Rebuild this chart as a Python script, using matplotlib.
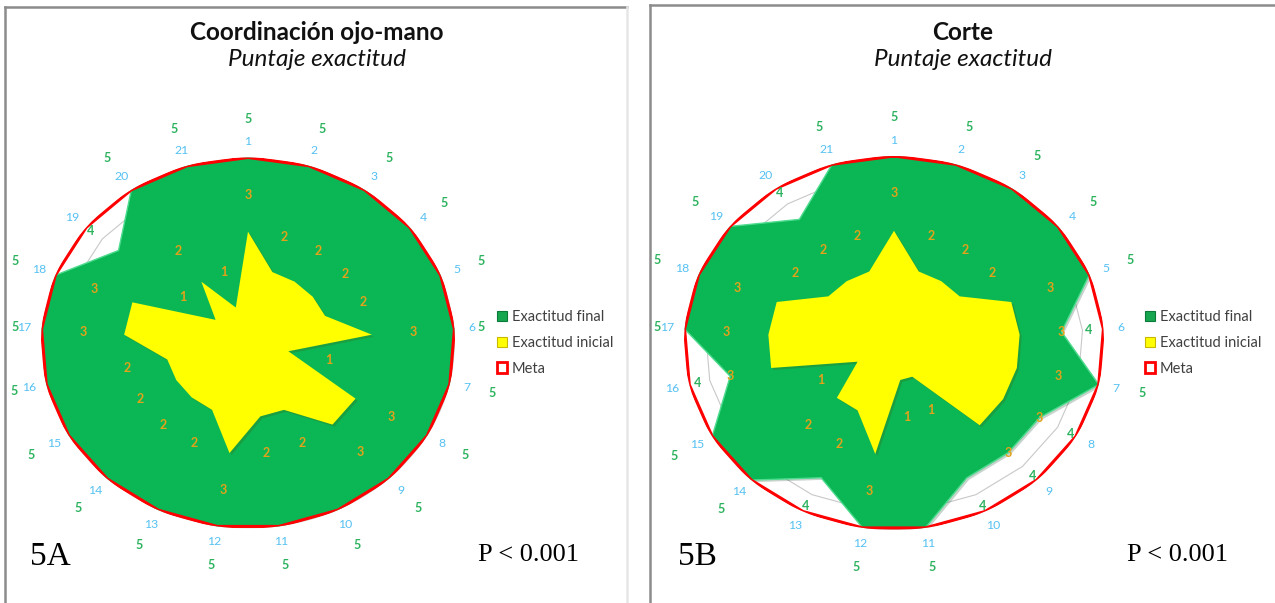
import numpy as np
import matplotlib.pyplot as plt
from matplotlib.patches import Patch
from matplotlib.lines import Line2D
import matplotlib.patheffects as pe

# Datos: 21 reactivos por prueba
ejes = [str(i) for i in range(1, 22)]
meta = [5] * 21

# 5A - Coordinación ojo-mano
final_a = [5, 5, 5, 5, 5, 5, 5, 5, 5, 5, 5, 5, 5, 5, 5, 5, 5, 5, 4, 5, 5]
inicial_a = [3, 2, 2, 2, 2, 3, 1, 3, 3, 2, 2, 3, 2, 2, 2, 2, 3, 3, 1, 2, 1]

# 5B - Corte
final_b = [5, 5, 5, 5, 5, 4, 5, 4, 4, 4, 5, 5, 4, 5, 5, 4, 5, 5, 5, 4, 5]
inicial_b = [3, 2, 2, 2, 3, 3, 3, 3, 3, 1, 1, 3, 2, 2, 1, 3, 3, 3, 2, 2, 2]

verde = '#0BB755'
amarillo = '#FFFF00'
rojo = '#FF0000'
txt_verde = '#2DB35F'
txt_amarillo = '#E3A21A'
txt_azul = '#55C1F2'

plt.rcParams['font.family'] = ['Lato', 'DejaVu Sans']

fig = plt.figure(figsize=(12.75, 6.03), dpi=100)

# marcos de cada panel (en pixeles de la figura)
W, H = 1275, 603
def linea(x0, y0, x1, y1, color):
    fig.add_artist(Line2D([x0 / W, x1 / W], [1 - y0 / H, 1 - y1 / H],
                          transform=fig.transFigure, color=color, lw=1.8))

linea(5, 7, 627, 7, '#8c8c8c')
linea(5, 7, 5, 603, '#8c8c8c')
linea(627, 7, 627, 603, '#e6e6e6')
linea(650, 5, 1275, 5, '#8c8c8c')
linea(650, 5, 650, 603, '#8c8c8c')

sombra = [pe.SimplePatchShadow(offset=(1.5, -1.5), alpha=0.22), pe.Normal()]


def radar(ax, final, inicial):
    n = len(ejes)
    ang = np.linspace(0, 2 * np.pi, n, endpoint=False)
    angc = np.append(ang, ang[0])
    cerrar = lambda v: np.append(v, v[0])

    ax.set_theta_zero_location('N')
    ax.set_theta_direction(-1)
    ax.set_aspect('auto')
    ax.set_ylim(0, 5)
    ax.set_xticks([])
    ax.set_yticks([])
    ax.grid(False)
    ax.spines['polar'].set_visible(False)
    ax.patch.set_alpha(0)

    for r in np.arange(0.5, 5.01, 0.5):
        ax.plot(angc, [r] * (n + 1), color='#c8c8c8', lw=0.8, zorder=0.5)

    ax.fill(angc, cerrar(final), color=verde, zorder=1, lw=1,
            edgecolor='#4fdc8f', path_effects=sombra)
    ax.fill(angc, cerrar(inicial), color=amarillo, zorder=1.5, lw=0,
            path_effects=sombra)
    ax.plot(angc, cerrar(meta), color=rojo, lw=2.2, zorder=2)

    for a, lab, vf, vi in zip(ang, ejes, final, inicial):
        # las etiquetas de los ejes casi horizontales quedan más cerca
        if abs(np.sin(a)) > 0.99:
            off = 0.65
        elif np.sin(a) < -0.95:
            off = 0.8
        else:
            off = 1.05 if vf == 5 else 0.85
        ax.text(a, 5.42, lab, color=txt_azul, fontsize=8.8,
                ha='center', va='center', clip_on=False, zorder=4)
        ax.text(a, vf + off, str(vf), color=txt_verde, fontsize=9,
                fontweight='bold', ha='center', va='center', clip_on=False, zorder=4)
        ax.text(a, vi + 1.0, str(vi), color=txt_amarillo, fontsize=9,
                fontweight='bold', ha='center', va='center', clip_on=False, zorder=4)


ax_a = fig.add_axes([41 / W, 74.5 / H, 414 / W, 371 / H], projection='polar')
radar(ax_a, final_a, inicial_a)
ax_b = fig.add_axes([684 / W, 73 / H, 420 / W, 374 / H], projection='polar')
radar(ax_b, final_b, inicial_b)

# títulos
for xc, titulo in ((317, 'Coordinación ojo-mano'), (963, 'Corte')):
    fig.text(xc / W, 1 - 33 / H, titulo, ha='center', va='center',
             fontsize=17.5, fontweight='bold', color='#111111')
    fig.text(xc / W, 1 - 60 / H, 'Puntaje exactitud', ha='center', va='center',
             fontsize=17.5, style='italic', color='#111111')

# leyendas
handles = [Patch(facecolor='#17a650', edgecolor='#0c7a38', lw=0.8),
           Patch(facecolor=amarillo, edgecolor='#c9b800', lw=0.8),
           Patch(facecolor='white', edgecolor=rojo, lw=2)]
etiquetas = ['Exactitud final', 'Exactitud inicial', 'Meta']
for x0 in (484 / W, 1132 / W):
    fig.legend(handles, etiquetas, loc='center left', bbox_to_anchor=(x0, 1 - 343 / H),
               frameon=False, fontsize=10.5, handlelength=0.7, handleheight=0.7,
               handletextpad=0.3, labelspacing=0.8, labelcolor='#404040')

# rótulos del panel
serif = ['Liberation Serif', 'DejaVu Serif']
fig.text(30 / W, 1 - 557 / H, '5A', fontsize=24, family=serif, va='center')
fig.text(678 / W, 1 - 557 / H, '5B', fontsize=24, family=serif, va='center')
fig.text(478 / W, 1 - 555 / H, 'P < 0.001', fontsize=19, family=serif, va='center')
fig.text(1127 / W, 1 - 555 / H, 'P < 0.001', fontsize=19, family=serif, va='center')

fig.savefig('out.png', dpi=100)
